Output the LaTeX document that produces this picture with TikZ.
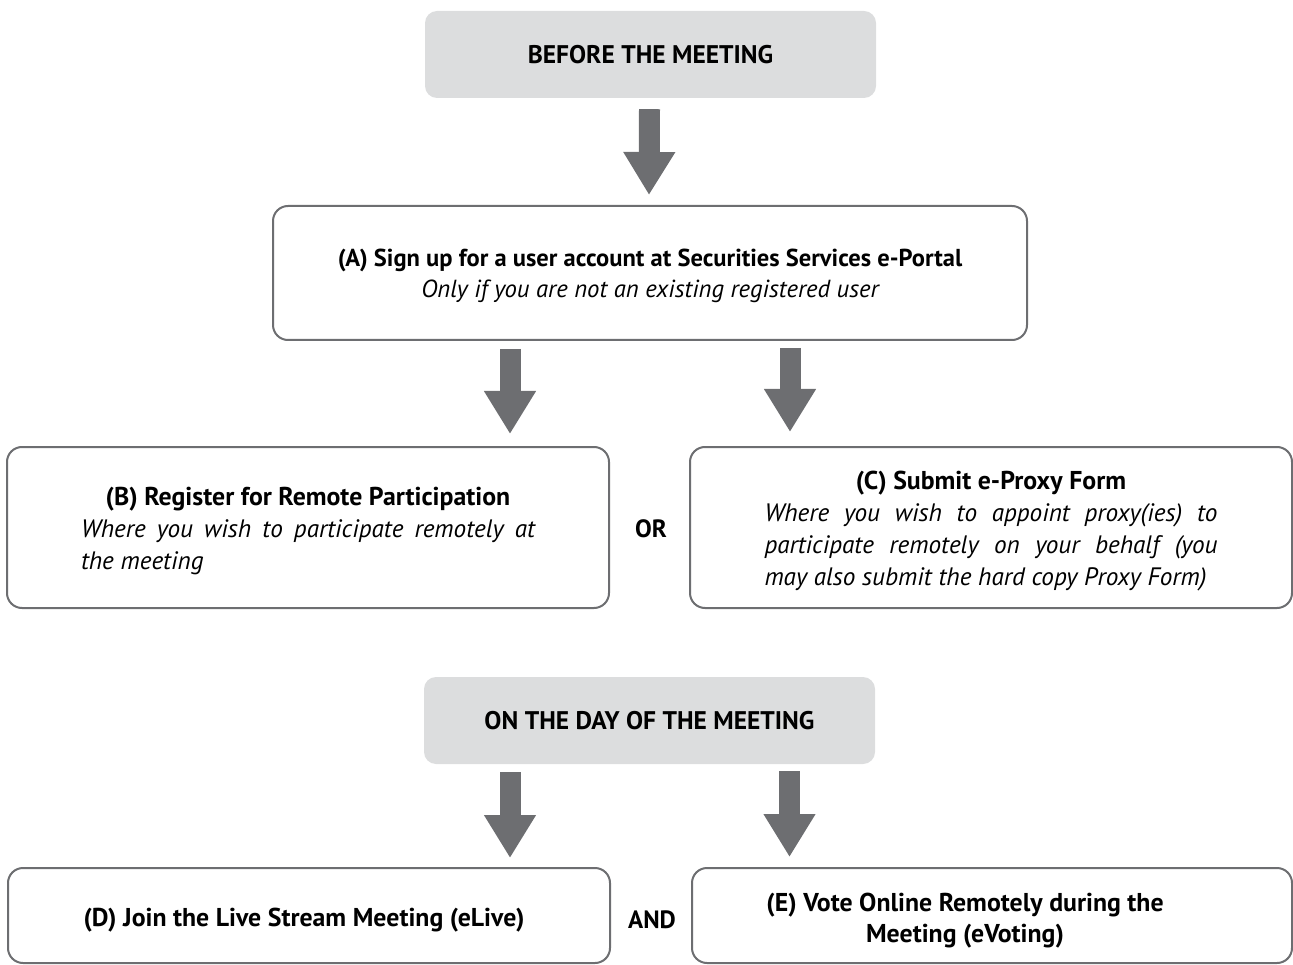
\documentclass[tikz,border=0pt]{standalone}
\usepackage{fontspec}
\setmainfont{PT Sans}
\usetikzlibrary{arrows.meta,calc}
\definecolor{boxgray}{HTML}{DCDDDE}
\definecolor{linegray}{HTML}{6D6E71}
\newcommand{\ttlA}{\fontsize{24.5}{31}\selectfont\bfseries}
\newcommand{\subA}{\fontsize{24.7}{31}\selectfont\itshape}
\newcommand{\ttl}{\fontsize{25.8}{32}\selectfont\bfseries}
\newcommand{\sub}{\fontsize{25.2}{32}\selectfont\itshape}
\begin{document}
\begin{tikzpicture}[x=1pt,y=-1pt,
  header/.style={fill=boxgray, rounded corners=12pt, minimum width=451pt, minimum height=87pt, inner sep=0pt, font=\fontsize{25.5}{30}\selectfont\bfseries},
  stepbox/.style={draw=linegray, line width=2pt, fill=white, rounded corners=15pt, inner sep=0pt},
  steptext/.style={inner sep=0pt, align=center, font=\fontsize{25}{32}\selectfont},
  bigarrow/.style={draw=linegray, line width=21pt, -{Triangle[width=49pt 0 0, length=43pt 0 0]}},
  joiner/.style={inner sep=0pt, font=\fontsize{25}{30}\selectfont\bfseries}]
\useasboundingbox (0,0) rectangle (1293,965);

% boxes
\node[header] (top) at (650.5,54.5) {BEFORE THE MEETING};
\node[stepbox, minimum width=754pt, minimum height=134pt] (A) at (650,273) {};
\node[stepbox, minimum width=602pt, minimum height=161pt] (B) at (308,527.5) {};
\node[stepbox, minimum width=602pt, minimum height=161pt] (C) at (991,527.5) {};
\node[header] (day) at (649.5,720.5) {ON THE DAY OF THE MEETING};
\node[stepbox, minimum width=602pt, minimum height=95pt] (D) at (309,915.5) {};
\node[stepbox, minimum width=600pt, minimum height=95pt] (E) at (992,915.5) {};

% texts
\node[steptext, font=\fontsize{25}{31}\selectfont] (Atext) at ($(A.center)+(0,3)$)
  {{\ttlA (A) Sign up for a user account at Securities Services e-Portal}\\
   {\subA Only if you are not an existing registered user}};
\node[steptext] (Btext) at ($(B.center)+(0,3.5)$)
  {{\ttl (B) Register for Remote Participation}\\
   {\sub\makebox[454pt][s]{Where you wish to participate remotely at}}\\
   {\sub\makebox[454pt][l]{the meeting}}};
\node[steptext] (Ctext) at ($(C.center)+(0,4)$)
  {{\ttl (C) Submit e-Proxy Form}\\
   {\sub\makebox[453pt][s]{Where you wish to appoint proxy(ies) to}}\\
   {\sub\makebox[453pt][s]{participate remotely on your behalf (you}}\\
   {\sub\makebox[453pt][l]{may also submit the hard copy Proxy Form)}}};
\node[steptext] (Dtext) at ($(D.center)+(-5,5)$)
  {{\ttl (D) Join the Live Stream Meeting (eLive)}};
\node[steptext, font=\fontsize{25}{31}\selectfont] (Etext) at ($(E.center)+(-27,5)$)
  {{\ttl (E) Vote Online Remotely during the}\\
   {\ttl Meeting (eVoting)}};
\node[joiner] (or) at (651,529) {OR};
\node[joiner] (and) at (652,920) {AND};

% arrows
\draw[bigarrow] ($(top.south)+(-1,11)$) -- ($(A.north)+(-1,-10)$);
\draw[bigarrow] ($(A.south)+(-140,8)$) -- ($(A.south |- B.north)+(-140,-12)$);
\draw[bigarrow] ($(A.south)+(140,7)$) -- ($(A.south |- C.north)+(140,-14)$);
\draw[bigarrow] ($(day.south)+(-139.5,8)$) -- ($(day.south |- D.north)+(-139.5,-9)$);
\draw[bigarrow] ($(day.south)+(140,7)$) -- ($(day.south |- E.north)+(140,-10)$);
\end{tikzpicture}
\end{document}
